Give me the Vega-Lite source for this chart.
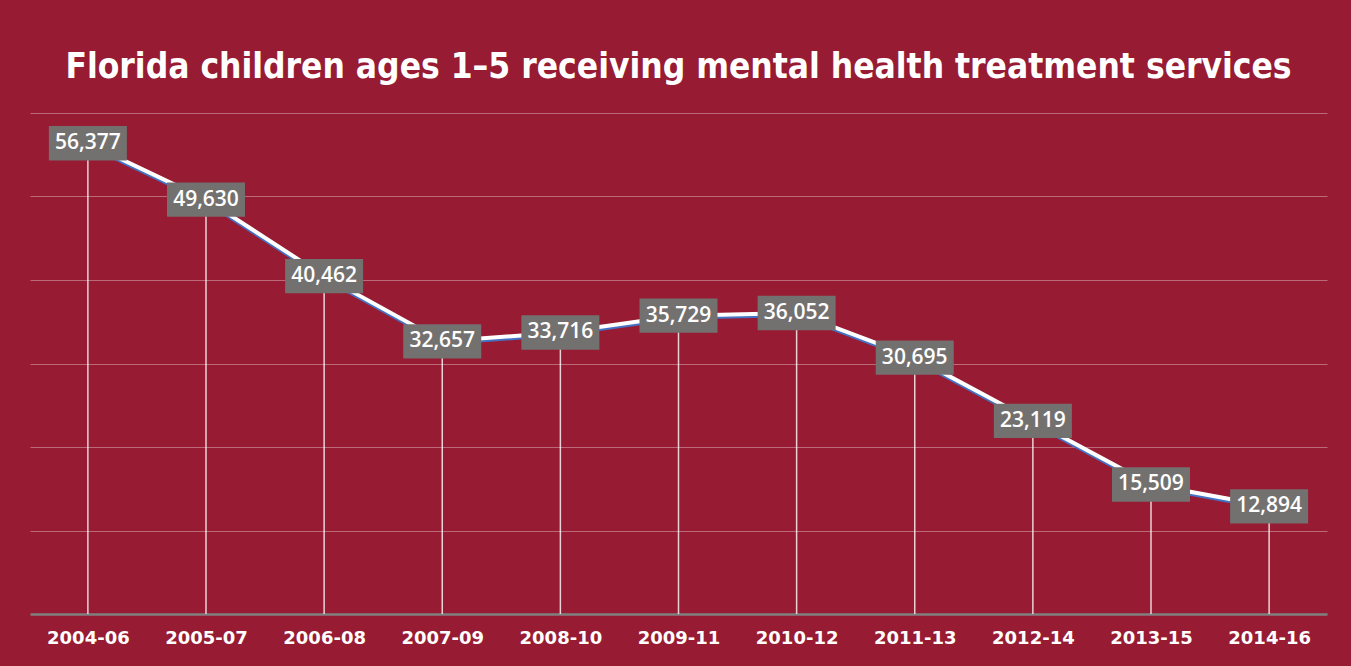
{
  "$schema": "https://vega.github.io/schema/vega-lite/v6.json",
  "width": 1297,
  "height": 501,
  "autosize": {"type": "none"},
  "padding": {"left": 30, "top": 113, "right": 24, "bottom": 52},
  "background": "#971B32",
  "title": {
    "text": "Florida children ages 1–5 receiving mental health treatment services",
    "font": "DejaVu Sans Condensed",
    "fontSize": 35,
    "fontWeight": "bold",
    "color": "#ffffff",
    "anchor": "middle",
    "frame": "group",
    "baseline": "alphabetic",
    "offset": 0
  },
  "config": {
    "view": {"stroke": null},
    "axis": {"labelColor": "#ffffff"}
  },
  "data": {
    "values": [
      {"period": "2004-06", "value": 56377},
      {"period": "2005-07", "value": 49630},
      {"period": "2006-08", "value": 40462},
      {"period": "2007-09", "value": 32657},
      {"period": "2008-10", "value": 33716},
      {"period": "2009-11", "value": 35729},
      {"period": "2010-12", "value": 36052},
      {"period": "2011-13", "value": 30695},
      {"period": "2012-14", "value": 23119},
      {"period": "2013-15", "value": 15509},
      {"period": "2014-16", "value": 12894}
    ]
  },
  "encoding": {
    "x": {
      "field": "period",
      "type": "nominal",
      "sort": null,
      "scale": {"type": "point", "padding": 0.49},
      "axis": {
        "title": null,
        "labelAngle": 0,
        "ticks": false,
        "labelPadding": 15,
        "labelFont": "DejaVu Sans",
        "labelFontSize": 18,
        "labelFontWeight": "bold",
        "labelColor": "#ffffff",
        "domainColor": "#808080",
        "domainWidth": 2.5,
        "grid": false
      }
    },
    "y": {
      "field": "value",
      "type": "quantitative",
      "scale": {"domain": [0, 60000], "nice": false},
      "axis": {
        "title": null,
        "labels": false,
        "ticks": false,
        "domain": false,
        "grid": true,
        "values": [10000, 20000, 30000, 40000, 50000, 60000],
        "gridColor": "#ffffff",
        "gridOpacity": 0.35,
        "gridWidth": 1.2
      }
    }
  },
  "layer": [
    {
      "mark": {"type": "rule", "color": "#ffffff", "opacity": 0.8, "strokeWidth": 1.5},
      "encoding": {"y2": {"datum": 0}}
    },
    {
      "mark": {"type": "line", "color": "#4472C4", "strokeWidth": 4, "yOffset": 2}
    },
    {
      "mark": {"type": "line", "color": "#ffffff", "strokeWidth": 4}
    },
    {
      "mark": {
        "type": "point",
        "shape": "M-1,-0.44L1,-0.44L1,0.44L-1,0.44Z",
        "size": 6084,
        "filled": true,
        "color": "#737170",
        "opacity": 1
      }
    },
    {
      "mark": {
        "type": "text",
        "font": "Open Sans",
        "fontSize": 21,
        "fontWeight": 600,
        "color": "#ffffff"
      },
      "encoding": {"text": {"field": "value", "type": "quantitative", "format": ",d"}}
    }
  ]
}
